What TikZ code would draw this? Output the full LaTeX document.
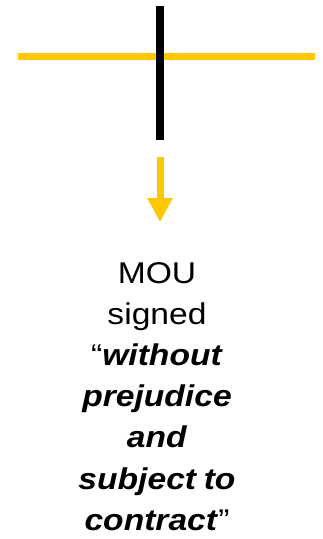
\documentclass[tikz,border=0pt]{standalone}
\usepackage{fontspec}
\setmainfont{Liberation Sans}
\usetikzlibrary{arrows.meta}
\definecolor{gold}{HTML}{FFC800}
\begin{document}
\begin{tikzpicture}[x=1pt,y=-1pt]
\tikzset{
  goldline/.style={draw=gold,line width=7pt},
  blackline/.style={draw=black,line width=7.5pt},
  goldarrow/.style={draw=gold,line width=7pt,-{Triangle[width=24pt,length=24pt]}},
  label/.style={inner sep=0pt,anchor=base}
}
\useasboundingbox (0,0) rectangle (322,539);
\coordinate (hl) at (18,56);
\coordinate (hr) at (315,56);
\coordinate (vt) at (160,6);
\coordinate (vb) at (160,140);
\coordinate (as) at (160,157);
\coordinate (ae) at (160,222);
\draw[goldline] (hl) -- (hr);
\draw[blackline] (vt) -- (vb);
\draw[goldarrow] (as) -- (ae);
\node[label] (txt) at (157,283) {\scalebox{1.12}[1]{\fontsize{30}{41.2}\selectfont\setlength{\tabcolsep}{0pt}%
\begin{tabular}[t]{c}
MOU\\
signed\\
“\textbf{\textit{without}}\\
\textbf{\textit{prejudice}}\\
\textbf{\textit{and}}\\
\textbf{\textit{subject\hspace{-0.05em} to}}\\
\textbf{\textit{contract}}”
\end{tabular}}};
\end{tikzpicture}
\end{document}
